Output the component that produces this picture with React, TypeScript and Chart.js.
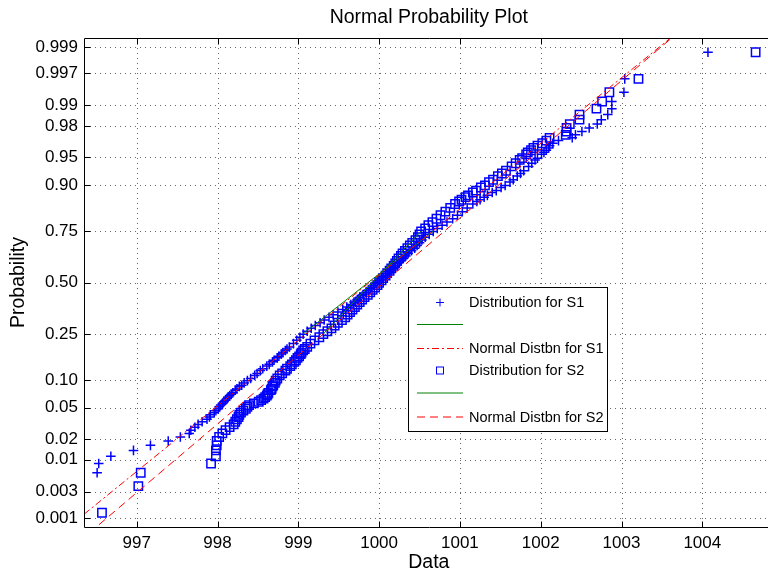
import React, { useEffect, useRef } from 'react';
import { Chart, registerables } from 'chart.js';

Chart.register(...registerables);

// ---------- data ----------
const sampleSize = 400;
const xMin = 996.36;
const xMax = 1004.87;
const zLimit = 3.21;
const xTicks = [997, 998, 999, 1000, 1001, 1002, 1003, 1004];
const probTicks = [0.001, 0.003, 0.01, 0.02, 0.05, 0.1, 0.25, 0.5, 0.75, 0.9, 0.95, 0.98, 0.99, 0.997, 0.999];
const probTickLabels = ['0.001', '0.003', '0.01', '0.02', '0.05', '0.10', '0.25', '0.50', '0.75', '0.90', '0.95', '0.98', '0.99', '0.997', '0.999'];

// [rank, value] of sorted samples
const s1Points: [number, number][] = [
  [3, 996.51], [4, 996.53], [5, 996.68], [6, 996.96], [7, 997.17], [8, 997.39], [9, 997.54], [10, 997.65], [11, 997.67], [12, 997.72],
  [13, 997.76], [14, 997.81], [15, 997.87], [16, 997.9], [17, 997.91], [18, 997.96], [19, 997.98], [20, 998.01], [21, 998.02], [22, 998.04],
  [23, 998.06], [24, 998.08], [25, 998.1], [26, 998.12], [27, 998.13], [28, 998.15], [29, 998.17], [30, 998.19], [32, 998.22], [33, 998.24],
  [35, 998.27], [36, 998.3], [38, 998.33], [40, 998.37], [42, 998.41], [45, 998.46], [47, 998.49], [50, 998.53], [52, 998.56], [55, 998.61],
  [57, 998.64], [60, 998.68], [62, 998.7], [65, 998.74], [67, 998.76], [70, 998.79], [72, 998.81], [75, 998.84], [77, 998.86], [80, 998.89],
  [85, 998.94], [90, 998.98], [95, 999.02], [100, 999.06], [105, 999.11], [110, 999.16], [115, 999.21], [120, 999.27], [125, 999.32], [130, 999.38],
  [135, 999.43], [140, 999.49], [145, 999.55], [150, 999.6], [155, 999.65], [160, 999.69], [165, 999.73], [170, 999.76], [175, 999.8], [180, 999.84],
  [185, 999.87], [190, 999.9], [195, 999.93], [200, 999.96], [205, 1000.01], [210, 1000.05], [215, 1000.08], [220, 1000.11], [225, 1000.14], [230, 1000.17],
  [235, 1000.2], [240, 1000.23], [245, 1000.27], [250, 1000.3], [255, 1000.33], [260, 1000.36], [265, 1000.4], [270, 1000.44], [275, 1000.47], [280, 1000.5],
  [285, 1000.53], [290, 1000.57], [295, 1000.62], [300, 1000.67], [305, 1000.72], [310, 1000.78], [315, 1000.84], [320, 1000.91], [325, 1000.97], [330, 1001.03],
  [335, 1001.09], [340, 1001.16], [343, 1001.21], [345, 1001.25], [348, 1001.3], [350, 1001.34], [353, 1001.4], [355, 1001.45], [358, 1001.51], [360, 1001.56],
  [363, 1001.62], [365, 1001.66], [368, 1001.71], [370, 1001.75], [372, 1001.79], [375, 1001.85], [377, 1001.89], [379, 1001.93], [380, 1001.96], [382, 1002.01],
  [383, 1002.04], [384, 1002.07], [385, 1002.1], [386, 1002.11], [387, 1002.15], [388, 1002.22], [389, 1002.39], [390, 1002.43], [391, 1002.51], [392, 1002.6],
  [393, 1002.7], [394, 1002.75], [395, 1002.83], [396, 1002.88], [397, 1002.88], [398, 1003.03], [399, 1003.04], [400, 1004.07],
];

const s2Points: [number, number][] = [
  [1, 996.57], [2, 997.02], [3, 997.05], [4, 997.92], [5, 997.98], [6, 997.98], [7, 997.99], [8, 997.99], [9, 998.02], [10, 998.06],
  [11, 998.1], [12, 998.15], [13, 998.2], [14, 998.22], [15, 998.24], [16, 998.26], [17, 998.27], [18, 998.29], [19, 998.32], [20, 998.35],
  [21, 998.37], [22, 998.39], [23, 998.45], [24, 998.51], [25, 998.54], [26, 998.57], [27, 998.59], [28, 998.61], [29, 998.62], [30, 998.63],
  [32, 998.66], [33, 998.67], [35, 998.68], [36, 998.69], [38, 998.71], [40, 998.72], [42, 998.74], [45, 998.77], [47, 998.8], [50, 998.84],
  [52, 998.86], [55, 998.9], [57, 998.92], [60, 998.95], [62, 998.97], [65, 998.99], [67, 999.01], [70, 999.03], [72, 999.04], [75, 999.06],
  [77, 999.08], [80, 999.11], [85, 999.15], [90, 999.2], [95, 999.26], [100, 999.31], [105, 999.36], [110, 999.41], [115, 999.45], [120, 999.49],
  [125, 999.54], [130, 999.58], [135, 999.61], [140, 999.64], [145, 999.67], [150, 999.7], [155, 999.73], [160, 999.76], [165, 999.79], [170, 999.82],
  [175, 999.86], [180, 999.89], [185, 999.92], [190, 999.95], [195, 999.98], [200, 1000.0], [205, 1000.03], [210, 1000.05], [215, 1000.08], [220, 1000.1],
  [225, 1000.13], [230, 1000.15], [235, 1000.18], [240, 1000.2], [245, 1000.22], [250, 1000.24], [255, 1000.27], [260, 1000.29], [265, 1000.32], [270, 1000.35],
  [275, 1000.38], [280, 1000.41], [285, 1000.45], [290, 1000.48], [295, 1000.5], [300, 1000.52], [305, 1000.57], [310, 1000.61], [315, 1000.66], [320, 1000.71],
  [325, 1000.76], [330, 1000.82], [335, 1000.88], [340, 1000.94], [343, 1000.99], [345, 1001.02], [348, 1001.07], [350, 1001.1], [353, 1001.16], [355, 1001.2],
  [358, 1001.26], [360, 1001.31], [363, 1001.36], [365, 1001.41], [368, 1001.47], [370, 1001.52], [372, 1001.57], [375, 1001.64], [377, 1001.69], [379, 1001.74],
  [380, 1001.77], [382, 1001.82], [383, 1001.84], [384, 1001.88], [385, 1001.91], [386, 1001.96], [387, 1002.02], [388, 1002.07], [389, 1002.11], [390, 1002.31],
  [391, 1002.32], [392, 1002.32], [393, 1002.36], [394, 1002.48], [395, 1002.48], [396, 1002.69], [397, 1002.76], [398, 1002.85], [399, 1003.21], [400, 1004.66],
];

// fitted normal lines (end points) and quartile segments
const fitP = [0.0005, 0.9995];
const s1FitX = [996.06, 1003.7];
const s2FitX = [996.41, 1003.71];
const quartP = [0.25, 0.75];
const s1QuartX = [999.06, 1000.67];
const s2QuartX = [999.31, 1000.52];

const legendLabels = ['Distribution for S1', '', 'Normal Distbn for S1', 'Distribution for S2', '', 'Normal Distbn for S2'];

// ---------- helpers ----------
function probit(p: number): number {
  const a = [-3.969683028665376e1, 2.209460984245205e2, -2.759285104469687e2, 1.38357751867269e2, -3.066479806614716e1, 2.506628277459239];
  const b = [-5.447609879822406e1, 1.615858368580409e2, -1.556989798598866e2, 6.680131188771972e1, -1.328068155288572e1];
  const c = [-7.784894002430293e-3, -3.223964580411365e-1, -2.400758277161838, -2.549732539343734, 4.374664141464968, 2.938163982698783];
  const d = [7.784695709041462e-3, 3.224671290700398e-1, 2.445134137142996, 3.754408661907416];
  const pl = 0.02425;
  if (p < pl) {
    const q = Math.sqrt(-2 * Math.log(p));
    return (((((c[0] * q + c[1]) * q + c[2]) * q + c[3]) * q + c[4]) * q + c[5]) / ((((d[0] * q + d[1]) * q + d[2]) * q + d[3]) * q + 1);
  }
  if (p <= 1 - pl) {
    const q = p - 0.5;
    const r = q * q;
    return ((((((a[0] * r + a[1]) * r + a[2]) * r + a[3]) * r + a[4]) * r + a[5]) * q) / (((((b[0] * r + b[1]) * r + b[2]) * r + b[3]) * r + b[4]) * r + 1);
  }
  const q = Math.sqrt(-2 * Math.log(1 - p));
  return -(((((c[0] * q + c[1]) * q + c[2]) * q + c[3]) * q + c[4]) * q + c[5]) / ((((d[0] * q + d[1]) * q + d[2]) * q + d[3]) * q + 1);
}

const rankPts = (pts: [number, number][]) => pts.map(([r, v]) => ({ x: v, y: probit((r - 0.5) / sampleSize) }));
const linePts = (xs: number[], ps: number[]) => xs.map((x, i) => ({ x, y: probit(ps[i]) }));

const FONT = "'Liberation Sans', Arial, Helvetica, sans-serif";
const BLUE = '#0000ff';
const RED = '#ff0000';
const GREEN = '#008000';
const S1_DASH = [7, 3, 2, 3];
const S2_DASH = [8, 5];

const framePlugin = {
  id: 'matlabFrame',
  beforeDatasetsDraw(chart: any) {
    const { ctx, chartArea: ca, scales } = chart;
    ctx.save();
    ctx.strokeStyle = 'rgba(0,0,0,0.6)';
    ctx.lineWidth = 1;
    ctx.setLineDash([1, 4]);
    scales.x.ticks.forEach((t: any) => {
      const px = Math.round(scales.x.getPixelForValue(t.value)) + 0.5;
      ctx.beginPath();
      ctx.moveTo(px, ca.top);
      ctx.lineTo(px, ca.bottom);
      ctx.stroke();
    });
    scales.y.ticks.forEach((t: any) => {
      const py = Math.round(scales.y.getPixelForValue(t.value)) + 0.5;
      ctx.beginPath();
      ctx.moveTo(ca.left, py);
      ctx.lineTo(ca.right, py);
      ctx.stroke();
    });
    ctx.restore();
  },
  afterDatasetsDraw(chart: any) {
    const { ctx, chartArea: ca, scales } = chart;
    ctx.save();
    ctx.strokeStyle = '#000';
    ctx.lineWidth = 1;
    ctx.setLineDash([]);
    const L = ca.left - 0.5, T = ca.top + 0.5, B = ca.bottom + 0.5;
    ctx.beginPath();
    ctx.moveTo(ca.right + 2, T);
    ctx.lineTo(L, T);
    ctx.lineTo(L, B);
    ctx.lineTo(ca.right + 2, B);
    ctx.stroke();
    const tl = 6;
    scales.x.ticks.forEach((t: any) => {
      const px = Math.round(scales.x.getPixelForValue(t.value)) + 0.5;
      ctx.beginPath();
      ctx.moveTo(px, B);
      ctx.lineTo(px, B - tl);
      ctx.moveTo(px, T);
      ctx.lineTo(px, T + tl);
      ctx.stroke();
    });
    scales.y.ticks.forEach((t: any) => {
      const py = Math.round(scales.y.getPixelForValue(t.value)) + 0.5;
      ctx.beginPath();
      ctx.moveTo(L, py);
      ctx.lineTo(L + tl, py);
      ctx.stroke();
    });
    ctx.restore();
  },
  afterDraw(chart: any) {
    const { ctx, chartArea: ca } = chart;
    ctx.save();
    // titles
    ctx.fillStyle = '#000';
    ctx.textAlign = 'center';
    ctx.textBaseline = 'middle';
    ctx.font = `19.5px ${FONT}`;
    const cx = (ca.left + ca.right) / 2;
    ctx.fillText('Normal Probability Plot', cx, 18);
    ctx.font = `19.5px ${FONT}`;
    ctx.fillText('Data', cx, 563);
    ctx.save();
    ctx.translate(19, (ca.top + ca.bottom) / 2);
    ctx.rotate(-Math.PI / 2);
    ctx.fillText('Probability', 0, 0);
    ctx.restore();

    // legend box
    const bx = 408.5, by = 287.5, bw = 199, bh = 144;
    ctx.fillStyle = '#fff';
    ctx.fillRect(bx, by, bw, bh);
    ctx.strokeStyle = '#000';
    ctx.lineWidth = 1;
    ctx.strokeRect(bx, by, bw, bh);
    const ys = [302.5, 324.5, 348.5, 370.5, 393, 417];
    const x0 = 417, x1 = 463, xm = 440;
    ctx.font = `14.5px ${FONT}`;
    ctx.textAlign = 'left';
    ctx.textBaseline = 'middle';
    ys.forEach((y, i) => {
      ctx.save();
      ctx.lineWidth = 1;
      if (i === 0) {
        ctx.strokeStyle = BLUE;
        ctx.beginPath();
        ctx.moveTo(xm - 4, y); ctx.lineTo(xm + 4, y);
        ctx.moveTo(xm, y - 4); ctx.lineTo(xm, y + 4);
        ctx.stroke();
      } else if (i === 3) {
        ctx.strokeStyle = BLUE;
        ctx.strokeRect(xm - 3.5, y - 3.5, 7, 7);
      } else {
        ctx.strokeStyle = i === 1 || i === 4 ? GREEN : RED;
        if (i === 2) ctx.setLineDash(S1_DASH);
        if (i === 5) ctx.setLineDash(S2_DASH);
        ctx.beginPath();
        ctx.moveTo(x0, y); ctx.lineTo(x1, y);
        ctx.stroke();
      }
      ctx.restore();
      if (legendLabels[i]) {
        ctx.fillStyle = '#000';
        ctx.fillText(legendLabels[i], 469, y + 0.5);
      }
    });
    ctx.restore();
  },
};

export default function App() {
  const ref = useRef<HTMLCanvasElement | null>(null);
  useEffect(() => {
    if (!ref.current) return;
    const chart = new Chart(ref.current, {
      type: 'scatter',
      data: {
        datasets: [
          {
            label: 'Normal Distbn for S2',
            data: linePts(s2FitX, fitP),
            showLine: true, pointRadius: 0, borderColor: RED, borderWidth: 1, borderDash: S2_DASH,
            order: 0, clip: 0,
          },
          {
            label: 'Normal Distbn for S1',
            data: linePts(s1FitX, fitP),
            showLine: true, pointRadius: 0, borderColor: RED, borderWidth: 1, borderDash: S1_DASH,
            order: 1, clip: 0,
          },
          {
            label: 'S2 quartiles',
            data: linePts(s2QuartX, quartP),
            showLine: true, pointRadius: 0, borderColor: GREEN, borderWidth: 1,
            order: 2, clip: 0,
          },
          {
            label: 'S1 quartiles',
            data: linePts(s1QuartX, quartP),
            showLine: true, pointRadius: 0, borderColor: GREEN, borderWidth: 1,
            order: 3, clip: 0,
          },
          {
            label: 'Distribution for S2',
            data: rankPts(s2Points),
            pointStyle: 'rect', pointRadius: 5.9, borderColor: BLUE, backgroundColor: 'rgba(0,0,0,0)', borderWidth: 1.5,
            order: 4,
          },
          {
            label: 'Distribution for S1',
            data: rankPts(s1Points),
            pointStyle: 'cross', pointRadius: 4.8, borderColor: BLUE, backgroundColor: BLUE, borderWidth: 1.5,
            order: 5,
          },
        ],
      },
      options: {
        responsive: false,
        animation: false,
        events: [],
        devicePixelRatio: 1,
        layout: { padding: { left: 0, right: 2, top: 38, bottom: 0 } },
        plugins: { legend: { display: false }, tooltip: { enabled: false }, title: { display: false } },
        scales: {
          x: {
            type: 'linear',
            min: xMin,
            max: xMax,
            afterBuildTicks: (scale: any) => { scale.ticks = xTicks.map((v) => ({ value: v })); },
            afterFit: (scale: any) => { scale.height = 45; },
            grid: { display: false, drawTicks: false },
            border: { display: false },
            ticks: { color: '#000', font: { family: FONT, size: 17 }, padding: 6, maxRotation: 0, autoSkip: false, callback: (v: any) => String(v) },
          },
          y: {
            type: 'linear',
            min: -zLimit,
            max: zLimit,
            afterBuildTicks: (scale: any) => { scale.ticks = probTicks.map((p) => ({ value: probit(p) })); },
            afterFit: (scale: any) => { scale.width = 85; },
            grid: { display: false, drawTicks: false },
            border: { display: false },
            ticks: { color: '#000', font: { family: FONT, size: 17 }, padding: 7, autoSkip: false, callback: (_v: any, i: number) => probTickLabels[i] },
          },
        },
      },
      plugins: [framePlugin],
    });
    return () => chart.destroy();
  }, []);
  return (
    <div style={{ position: 'absolute', left: 0, top: 0, width: 768, height: 572, overflow: 'hidden', background: '#fff' }}>
      <canvas ref={ref} width={780} height={572} style={{ width: 780, height: 572, display: 'block' }} />
    </div>
  );
}
